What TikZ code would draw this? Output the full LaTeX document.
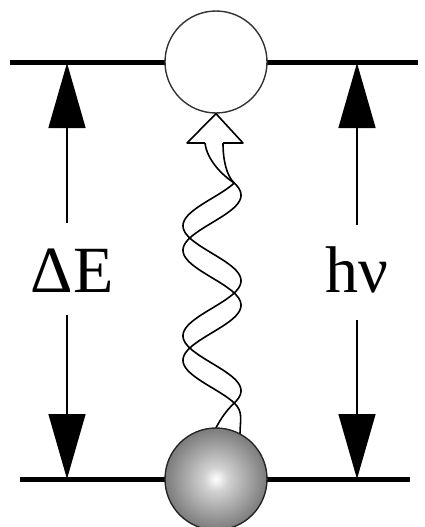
\documentclass[tikz,border=0pt]{standalone}
\usepackage{fontspec}
\setmainfont{Liberation Serif}
\usetikzlibrary{arrows.meta}
\pgfdeclareradialshading{sphereshade}{\pgfpoint{0bp}{0bp}}{color(0bp)=(white); color(6bp)=(black!18); color(24bp)=(black!50); color(42bp)=(black!65); color(50bp)=(black!82)}
\begin{document}
\begin{tikzpicture}[x=1pt,y=-1pt,
  level/.style={line width=5pt},
  varrow/.style={line width=1.4pt,-{Triangle[length=65pt,width=37pt]}},
  lbl/.style={font=\fontsize{66}{70}\selectfont, inner sep=0pt, anchor=base},
  strand/.style={line width=1.6pt, line join=round},
  ring/.style={circle, minimum size=102pt, inner sep=0pt, line width=1.4pt}]
\useasboundingbox (0,0) rectangle (424,527);
% level lines
\coordinate (tl) at (10,63);
\coordinate (tr) at (418,63);
\coordinate (bl) at (20,479);
\coordinate (br) at (410,479);
\draw[level] (tl) -- (tr);
\draw[level] (bl) -- (br);
% labels
\node[lbl] (dE) at (72,292) {ΔE};
\node[lbl] (hv) at (357,292) {hν};
% arrow endpoints
\coordinate (Lt) at (67,63);
\coordinate (Lb) at (67,479);
\coordinate (Lu) at (67,223);
\coordinate (Ld) at (67,315);
\coordinate (Rt) at (357,63);
\coordinate (Rb) at (357,479);
\coordinate (Ru) at (357,225);
\coordinate (Rd) at (357,320);
\draw[varrow] (Lu) -- (Lt);
\draw[varrow] (Ld) -- (Lb);
\draw[varrow] (Ru) -- (Rt);
\draw[varrow] (Rd) -- (Rb);
% twisted ribbon (photon)
\coordinate (x0) at (234.2,183);
\draw[strand] (205,143) .. controls (207,160) and (222,175) .. (x0)
  -- plot[domain=183:403, samples=170, variable=\t] ({212+29*sin(90+(\t-183)/110*360+40)}, \t)
  .. controls (224.7,412) and (218,423) .. (213,434);
\draw[strand] (223,143) .. controls (223,160) and (226.5,175.7) .. (x0)
  -- plot[domain=183:403, samples=170, variable=\t] ({212+29*sin(90+(\t-183)/110*360-40)}, \t)
  .. controls (243.7,412) and (240,420) .. (240,434);
% states
\node[ring, draw=black!80, fill=white] (exc) at (216,62) {};
\node[ring, draw=black!85, shade, shading=sphereshade] (gnd) at (216,479) {};
% hollow arrow head
\draw[strand, fill=white] (205,143) -- (187,143) -- (exc.south) -- (243,143) -- (223,143);
\end{tikzpicture}
\end{document}
